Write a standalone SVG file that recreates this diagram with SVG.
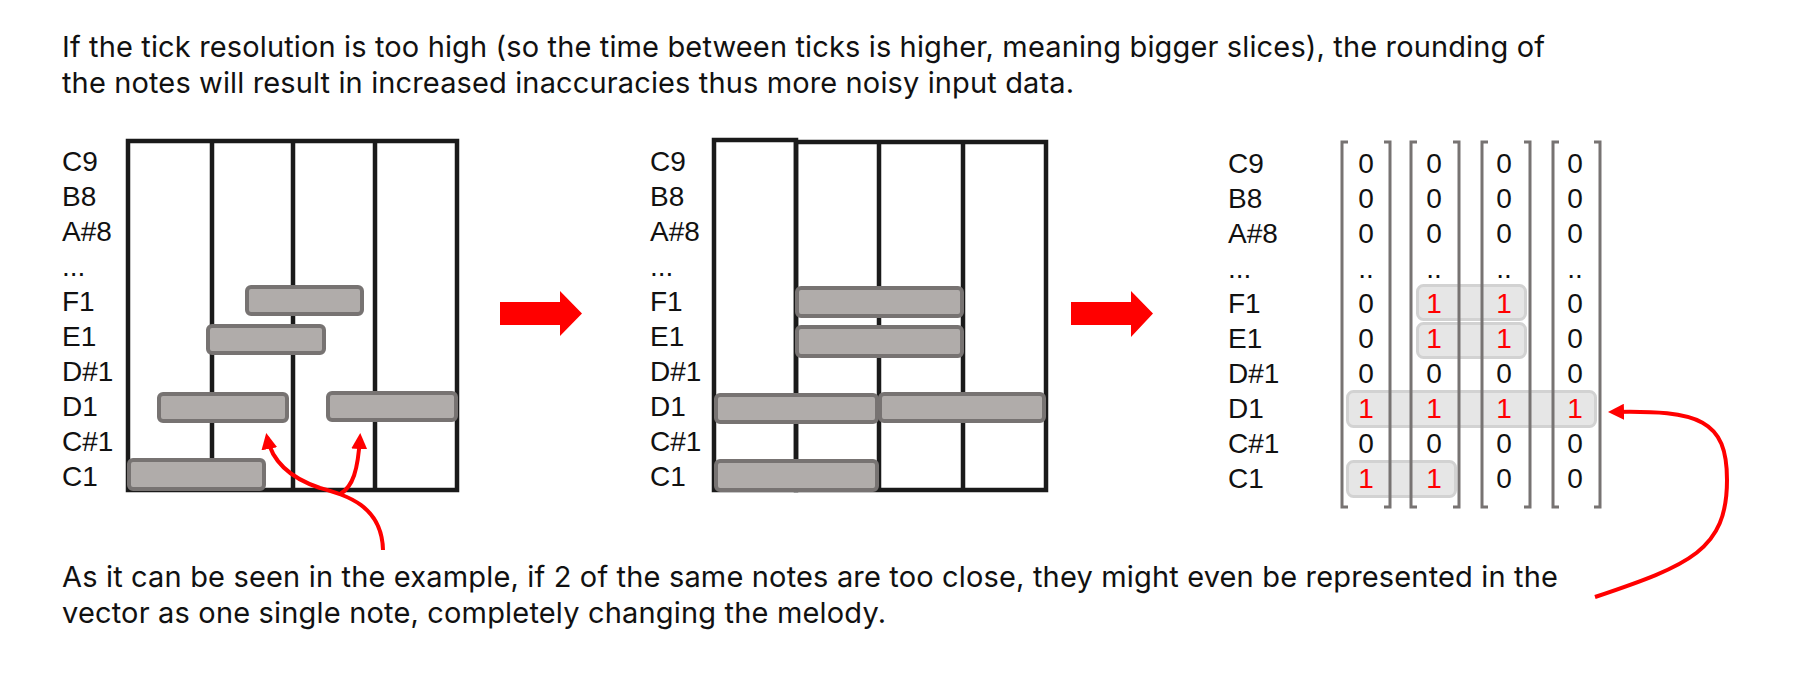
<svg xmlns="http://www.w3.org/2000/svg" width="1804" height="687" viewBox="0 0 1804 687">
<defs>
<style>
text{fill:#111;}
.para{font-family:Inter,"Liberation Sans",sans-serif;font-size:29px;}
.lbl{font-family:"Liberation Sans",Arial,sans-serif;font-size:28px;}
.num{font-family:"Liberation Sans",Arial,sans-serif;font-size:28px;text-anchor:middle;}
.one{fill:#ff0000;}
.grid{fill:none;stroke:#1a1a1a;stroke-width:4.5;}
.gl{stroke:#1a1a1a;stroke-width:4.5;}
.note{fill:#b0acaa;stroke:#777372;stroke-width:4;}
.hl{fill:#e6e6e6;stroke:#d2d2d2;stroke-width:3;}
.br{fill:none;stroke:#777372;stroke-width:3;}
.red{fill:none;stroke:#ff0000;stroke-width:4;}
.block{fill:#ff0000;}
</style>
<marker id="ah" viewBox="0 0 16 16" markerWidth="16" markerHeight="16" refX="12" refY="8" orient="auto" markerUnits="userSpaceOnUse">
<path d="M0,0 L16,8 L0,16 z" fill="#ff0000"/>
</marker>
</defs>
<rect width="1804" height="687" fill="#ffffff"/>

<g id="title">
<text class="para" x="62" y="57" textLength="1483" lengthAdjust="spacing">If the tick resolution is too high (so the time between ticks is higher, meaning bigger slices), the rounding of</text>
<text class="para" x="62" y="93" textLength="1012" lengthAdjust="spacing">the notes will result in increased inaccuracies thus more noisy input data.</text>
</g>

<g id="labels1">
<text class="lbl" x="62" y="171">C9</text>
<text class="lbl" x="62" y="206">B8</text>
<text class="lbl" x="62" y="241">A#8</text>
<text class="lbl" x="62" y="276">...</text>
<text class="lbl" x="62" y="311">F1</text>
<text class="lbl" x="62" y="346">E1</text>
<text class="lbl" x="62" y="381">D#1</text>
<text class="lbl" x="62" y="416">D1</text>
<text class="lbl" x="62" y="451">C#1</text>
<text class="lbl" x="62" y="486">C1</text>
</g>

<g id="grid1">
<rect class="grid" x="128" y="141" width="329" height="349"/>
<line class="gl" x1="212" y1="141" x2="212" y2="490"/>
<line class="gl" x1="293" y1="141" x2="293" y2="490"/>
<line class="gl" x1="375" y1="141" x2="375" y2="490"/>
<rect class="note" x="247" y="287" width="115" height="27" rx="4"/>
<rect class="note" x="208" y="326" width="116" height="27" rx="4"/>
<rect class="note" x="159" y="394" width="128" height="27" rx="4"/>
<rect class="note" x="328" y="393" width="128" height="27" rx="4"/>
<rect class="note" x="129" y="460" width="135" height="29" rx="4"/>
</g>

<g id="arrow1">
<path class="block" d="M500,302 H560 V291 L582,313.5 L560,336 V325 H500 Z"/>
</g>

<g id="labels2">
<text class="lbl" x="650" y="171">C9</text>
<text class="lbl" x="650" y="206">B8</text>
<text class="lbl" x="650" y="241">A#8</text>
<text class="lbl" x="650" y="276">...</text>
<text class="lbl" x="650" y="311">F1</text>
<text class="lbl" x="650" y="346">E1</text>
<text class="lbl" x="650" y="381">D#1</text>
<text class="lbl" x="650" y="416">D1</text>
<text class="lbl" x="650" y="451">C#1</text>
<text class="lbl" x="650" y="486">C1</text>
</g>

<g id="grid2">
<rect class="grid" x="714" y="140" width="82" height="350"/>
<rect class="grid" x="796" y="142" width="250" height="348"/>
<line class="gl" x1="879" y1="142" x2="879" y2="490"/>
<line class="gl" x1="963" y1="142" x2="963" y2="490"/>
<rect class="note" x="797" y="288" width="165" height="28" rx="4"/>
<rect class="note" x="797" y="327" width="165" height="29" rx="4"/>
<rect class="note" x="716" y="395" width="161" height="27" rx="4"/>
<rect class="note" x="880" y="394" width="164" height="27" rx="4"/>
<rect class="note" x="716" y="461" width="161" height="29" rx="4"/>
</g>

<g id="arrow2">
<path class="block" d="M1071,302 H1131 V291 L1153,313.5 L1131,337 V325 H1071 Z"/>
</g>

<g id="labels3">
<text class="lbl" x="1228" y="173">C9</text>
<text class="lbl" x="1228" y="208">B8</text>
<text class="lbl" x="1228" y="243">A#8</text>
<text class="lbl" x="1228" y="278">...</text>
<text class="lbl" x="1228" y="313">F1</text>
<text class="lbl" x="1228" y="348">E1</text>
<text class="lbl" x="1228" y="383">D#1</text>
<text class="lbl" x="1228" y="418">D1</text>
<text class="lbl" x="1228" y="453">C#1</text>
<text class="lbl" x="1228" y="488">C1</text>
</g>

<g id="matrix">
<rect class="hl" x="1417.5" y="285.5" width="108" height="34" rx="6"/>
<rect class="hl" x="1417.5" y="323.5" width="108" height="34" rx="6"/>
<rect class="hl" x="1347.5" y="391.5" width="248" height="35" rx="6"/>
<rect class="hl" x="1347.5" y="461.5" width="108" height="35" rx="6"/>
<path class="br" d="M1348,142 H1342 V507 H1348 M1384,142 H1390 V507 H1384"/>
<path class="br" d="M1417,142 H1411 V507 H1417 M1453,142 H1459 V507 H1453"/>
<path class="br" d="M1488,142 H1482 V507 H1488 M1524,142 H1530 V507 H1524"/>
<path class="br" d="M1559,142 H1553 V507 H1559 M1594,142 H1600 V507 H1594"/>
<g>
<text class="num" x="1366" y="173">0</text><text class="num" x="1434" y="173">0</text><text class="num" x="1504" y="173">0</text><text class="num" x="1575" y="173">0</text>
<text class="num" x="1366" y="208">0</text><text class="num" x="1434" y="208">0</text><text class="num" x="1504" y="208">0</text><text class="num" x="1575" y="208">0</text>
<text class="num" x="1366" y="243">0</text><text class="num" x="1434" y="243">0</text><text class="num" x="1504" y="243">0</text><text class="num" x="1575" y="243">0</text>
<text class="num" x="1366" y="278">..</text><text class="num" x="1434" y="278">..</text><text class="num" x="1504" y="278">..</text><text class="num" x="1575" y="278">..</text>
<text class="num" x="1366" y="313">0</text><text class="num one" x="1434" y="313">1</text><text class="num one" x="1504" y="313">1</text><text class="num" x="1575" y="313">0</text>
<text class="num" x="1366" y="348">0</text><text class="num one" x="1434" y="348">1</text><text class="num one" x="1504" y="348">1</text><text class="num" x="1575" y="348">0</text>
<text class="num" x="1366" y="383">0</text><text class="num" x="1434" y="383">0</text><text class="num" x="1504" y="383">0</text><text class="num" x="1575" y="383">0</text>
<text class="num one" x="1366" y="418">1</text><text class="num one" x="1434" y="418">1</text><text class="num one" x="1504" y="418">1</text><text class="num one" x="1575" y="418">1</text>
<text class="num" x="1366" y="453">0</text><text class="num" x="1434" y="453">0</text><text class="num" x="1504" y="453">0</text><text class="num" x="1575" y="453">0</text>
<text class="num one" x="1366" y="488">1</text><text class="num one" x="1434" y="488">1</text><text class="num" x="1504" y="488">0</text><text class="num" x="1575" y="488">0</text>
</g>
</g>

<g id="connectors">
<path class="red" d="M383,550 C382,505 345,495 320,488 C290,478 272,462 267,437" marker-end="url(#ah)"/>
<path class="red" d="M340,494 C353,487 358,470 360,437" marker-end="url(#ah)"/>
<path class="red" d="M1595,597 C1690,565 1727,550 1727,480 C1727,420 1700,410 1612,412" marker-end="url(#ah)"/>
</g>

<g id="caption">
<text class="para" x="62" y="587" textLength="1496" lengthAdjust="spacing">As it can be seen in the example, if 2 of the same notes are too close, they might even be represented in the</text>
<text class="para" x="62" y="623" textLength="824" lengthAdjust="spacing">vector as one single note, completely changing the melody.</text>
</g>
</svg>
